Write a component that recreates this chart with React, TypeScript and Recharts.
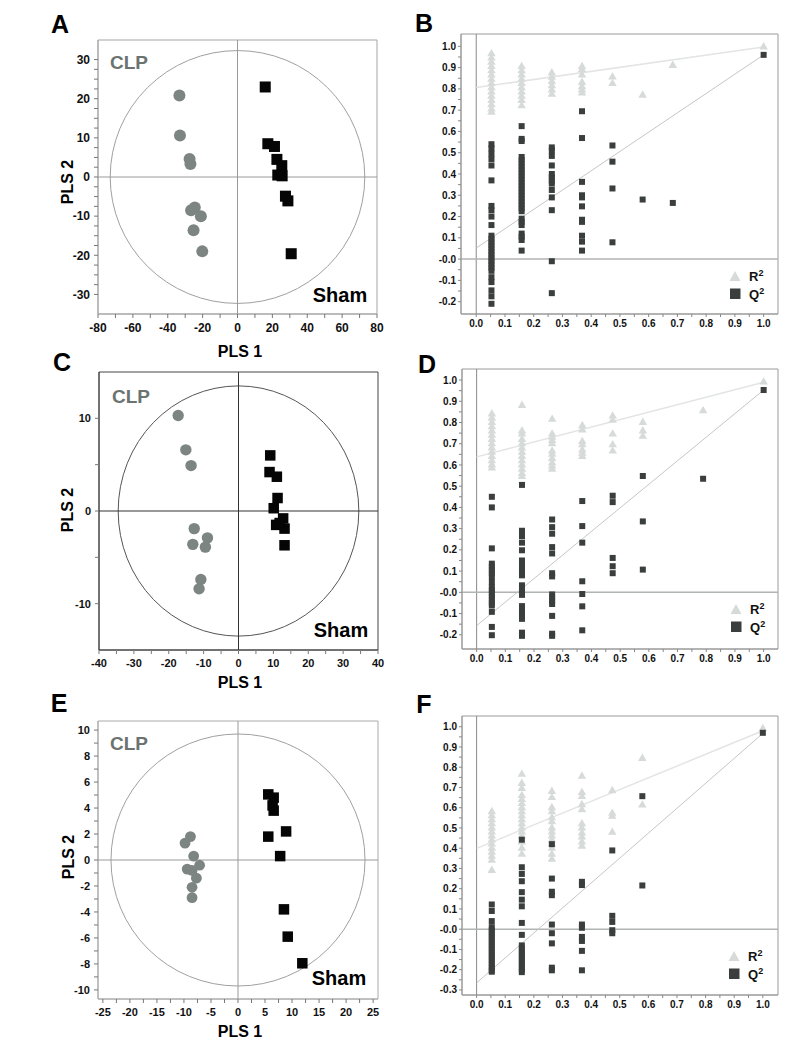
import React from 'react';
import { ScatterChart, Scatter, XAxis, YAxis, ReferenceLine, ReferenceArea, Legend } from 'recharts';

const FONT = '"Liberation Sans", Arial, Helvetica, sans-serif';

// ---------- PLS-DA score plots ----------
const A_CLP_X = [-33.3, -33, -27.5, -27, -24.5, -26.6, -21, -25.2, -20.2];
const A_CLP_Y = [20.8, 10.6, 4.6, 3.3, -7.8, -8.5, -10, -13.6, -19];
const A_SHAM_X = [15.9, 17.4, 21.2, 22.6, 25.4, 23.1, 25.6, 27.5, 28.9, 30.8];
const A_SHAM_Y = [23, 8.5, 7.8, 4.5, 2.9, 0.5, 0.3, -4.9, -6.1, -19.6];
const A_ELLIPSE = [73, 32.3];

const C_CLP_X = [-17.3, -15.1, -13.6, -12.7, -13.1, -8.9, -9.5, -10.8, -11.3];
const C_CLP_Y = [10.3, 6.6, 4.9, -1.9, -3.6, -2.9, -3.9, -7.4, -8.4];
const C_SHAM_X = [9.1, 8.9, 11.0, 11.2, 10.1, 12.8, 10.8, 13.2, 13.2, 11.8];
const C_SHAM_Y = [6.0, 4.2, 3.7, 1.4, 0.3, -0.8, -1.5, -1.9, -3.7, -1.3];
const C_ELLIPSE = [34.5, 13.5];

const E_CLP_X = [-8.8, -9.8, -8.2, -7.1, -9.4, -8.5, -7.7, -8.5, -8.5];
const E_CLP_Y = [1.8, 1.3, 0.3, -0.4, -0.7, -0.8, -1.4, -2.1, -2.9];
const E_SHAM_X = [5.6, 6.6, 6.4, 6.6, 5.6, 8.9, 7.8, 8.5, 9.2, 11.9];
const E_SHAM_Y = [5.05, 4.8, 4.2, 3.8, 1.8, 2.2, 0.3, -3.8, -5.9, -7.95];
const E_ELLIPSE = [23.5, 9.7];

const A_XTICKS = [-80, -60, -40, -20, 0, 20, 40, 60, 80];
const A_YTICKS = [-30, -20, -10, 0, 10, 20, 30];
const C_XTICKS = [-40, -30, -20, -10, 0, 10, 20, 30, 40];
const C_YTICKS = [-10, 0, 10];
const E_XTICKS = [-25, -20, -15, -10, -5, 0, 5, 10, 15, 20, 25];
const E_YTICKS = [-10, -8, -6, -4, -2, 0, 2, 4, 6, 8, 10];

// ---------- Permutation plots ----------
const PERM_X = [0.053, 0.158, 0.263, 0.368, 0.474, 0.579, 0.684, 0.789, 1.0];
const PERM_XTICKS = [0, 0.1, 0.2, 0.3, 0.4, 0.5, 0.6, 0.7, 0.8, 0.9, 1.0];
const B_YTICKS = [-0.2, -0.1, 0, 0.1, 0.2, 0.3, 0.4, 0.5, 0.6, 0.7, 0.8, 0.9, 1.0];
const F_YTICKS = [-0.3, -0.2, -0.1, 0, 0.1, 0.2, 0.3, 0.4, 0.5, 0.6, 0.7, 0.8, 0.9, 1.0];

const B_R2 = [
  [0.965, 0.945, 0.925, 0.905, 0.885, 0.865, 0.845, 0.825, 0.805, 0.785, 0.765, 0.745, 0.725, 0.705, 0.69],
  [0.905, 0.885, 0.865, 0.845, 0.825, 0.805, 0.785, 0.765, 0.745, 0.72],
  [0.875, 0.855, 0.835, 0.815, 0.795, 0.775],
  [0.905, 0.89, 0.865, 0.83, 0.81, 0.795, 0.78],
  [0.856, 0.825],
  [0.77],
  [0.91],
  [],
  [0.997],
];
const B_Q2 = [
  [0.54, 0.52, 0.495, 0.47, 0.44, 0.37, 0.25, 0.23, 0.2, 0.16, 0.11, 0.095, 0.08, 0.065, 0.05, 0.035, 0.02, 0.005, -0.01, -0.025, -0.04, -0.055, -0.085, -0.108, -0.147, -0.175, -0.21],
  [0.625, 0.565, 0.555, 0.48, 0.465, 0.45, 0.435, 0.42, 0.405, 0.39, 0.375, 0.36, 0.345, 0.33, 0.315, 0.3, 0.285, 0.27, 0.255, 0.24, 0.225, 0.19, 0.175, 0.16, 0.12, 0.105, 0.09, 0.04],
  [0.525, 0.51, 0.485, 0.44, 0.4, 0.385, 0.37, 0.355, 0.325, 0.29, 0.23, -0.01, -0.16],
  [0.695, 0.569, 0.363, 0.3, 0.29, 0.248, 0.185, 0.175, 0.11, 0.082, 0.04],
  [0.534, 0.458, 0.332, 0.079],
  [0.28],
  [0.264],
  [],
  [0.96],
];
const B_R2_LINE = [0.806, 0.997];
const B_Q2_LINE = [0.052, 0.96];

const D_R2 = [
  [0.84, 0.82, 0.8, 0.78, 0.76, 0.74, 0.72, 0.7, 0.68, 0.66, 0.64, 0.62, 0.6, 0.585],
  [0.88, 0.76, 0.745, 0.72, 0.7, 0.68, 0.66, 0.64, 0.62, 0.6, 0.58, 0.56, 0.545],
  [0.815, 0.745, 0.73, 0.715, 0.7, 0.665, 0.65, 0.63, 0.61, 0.595, 0.58],
  [0.785, 0.765, 0.71, 0.695, 0.67, 0.655, 0.64],
  [0.83, 0.81, 0.745, 0.695, 0.665],
  [0.8, 0.76, 0.735],
  [],
  [0.855],
  [0.99],
];
const D_Q2 = [
  [0.45, 0.4, 0.207, 0.135, 0.12, 0.105, 0.09, 0.075, 0.049, 0.025, 0.01, -0.005, -0.02, -0.035, -0.05, -0.062, -0.092, -0.163, -0.202],
  [0.506, 0.29, 0.265, 0.234, 0.198, 0.15, 0.127, 0.11, 0.095, 0.08, 0.033, 0.018, 0.003, -0.012, -0.065, -0.08, -0.095, -0.11, -0.125, -0.19, -0.205],
  [0.343, 0.307, 0.276, 0.213, 0.183, 0.09, 0.075, -0.01, -0.025, -0.04, -0.055, -0.111, -0.195, -0.205],
  [0.43, 0.312, 0.234, 0.052, -0.008, -0.066, -0.179],
  [0.455, 0.425, 0.162, 0.123, 0.09],
  [0.548, 0.334, 0.107],
  [],
  [0.535],
  [0.953],
];
const D_R2_LINE = [0.638, 0.99];
const D_Q2_LINE = [-0.157, 0.953];

const F_R2 = [
  [0.58, 0.56, 0.54, 0.52, 0.5, 0.48, 0.46, 0.44, 0.42, 0.4, 0.38, 0.36, 0.34, 0.29],
  [0.765, 0.72, 0.695, 0.66, 0.64, 0.62, 0.6, 0.58, 0.56, 0.54, 0.52, 0.5, 0.48, 0.46, 0.43, 0.4, 0.37],
  [0.68, 0.65, 0.6, 0.58, 0.55, 0.53, 0.5, 0.48, 0.46, 0.44, 0.42, 0.4, 0.37, 0.345],
  [0.755, 0.675, 0.655, 0.615, 0.59, 0.52, 0.5, 0.475, 0.455, 0.43, 0.41],
  [0.684, 0.572, 0.558, 0.478],
  [0.843, 0.613],
  [],
  [],
  [0.99],
];
const F_Q2 = [
  [0.122, 0.09, 0.04, 0.01, -0.005, -0.02, -0.035, -0.05, -0.065, -0.08, -0.095, -0.11, -0.125, -0.14, -0.155, -0.17, -0.185, -0.2, -0.21],
  [0.442, 0.306, 0.273, 0.237, 0.183, 0.146, 0.113, 0.031, -0.028, -0.08, -0.095, -0.11, -0.125, -0.14, -0.155, -0.17, -0.185, -0.2, -0.212],
  [0.42, 0.25, 0.185, 0.168, 0.023, -0.02, -0.07, -0.19, -0.203],
  [0.234, 0.218, 0.023, 0.007, -0.038, -0.058, -0.107, -0.203],
  [0.389, 0.066, 0.036, -0.005, -0.02],
  [0.657, 0.216],
  [],
  [],
  [0.97],
];
const F_R2_LINE = [0.399, 0.98];
const F_Q2_LINE = [-0.265, 0.967];

// ---------- helpers ----------
const zip = (xs: number[], ys: number[]) => xs.map((x, i) => ({ x, y: ys[i] }));
const toPoints = (xs: number[], cols: number[][]) =>
  cols.flatMap((c, i) => c.map((y) => ({ x: xs[i], y })));
const withMinor = (majors: number[], parts: number) => {
  const out: number[] = [];
  for (let i = 0; i < majors.length - 1; i++) {
    for (let k = 0; k < parts; k++) out.push(majors[i] + ((majors[i + 1] - majors[i]) * k) / parts);
  }
  out.push(majors[majors.length - 1]);
  return out;
};
const isMajor = (majors: number[], v: number) => majors.some((m) => Math.abs(m - v) < 1e-6);

type Box = { x: number; y: number; w: number; h: number };
type Plot = { l: number; t: number; w: number; h: number };
const margins = (box: Box, plot: Plot, yW: number, xH: number) => ({
  left: plot.l - box.x - yW,
  top: plot.t - box.y,
  right: box.x + box.w - plot.l - plot.w,
  bottom: box.y + box.h - plot.t - plot.h - xH,
});

const Txt = ({ x, y, size, color = '#000', rotate = false, children, family = FONT }: any) => (
  <div
    style={{
      position: 'absolute',
      left: x,
      top: y,
      transform: `translate(-50%, -50%)${rotate ? ' rotate(-90deg)' : ''}`,
      fontFamily: family,
      fontWeight: 700,
      fontSize: size,
      color,
      whiteSpace: 'nowrap',
      lineHeight: 1,
    }}
  >
    {children}
  </div>
);

// ---------- PLS panel ----------
function PLSPanel(p: any) {
  const { box, plot, xDomain, yDomain, xMajors, yMajors, xParts, yParts, clp, sham, ellipse, lineColor, frameColor, ellColor, fontSize, r, sq } = p;
  const yW = 45;
  const xH = 30;
  const tickStyle = { fontSize, fontWeight: 700, fill: '#111', fontFamily: FONT };
  return (
    <div style={{ position: 'absolute', left: box.x, top: box.y }}>
      <ScatterChart width={box.w} height={box.h} margin={margins(box, plot, yW, xH)}>
        <XAxis
          type="number"
          dataKey="x"
          domain={xDomain}
          allowDataOverflow
          ticks={withMinor(xMajors, xParts)}
          interval={0}
          tickFormatter={(v: number) => (isMajor(xMajors, v) ? String(Math.round(v)) : '')}
          tick={tickStyle}
          tickSize={4}
          tickMargin={5}
          height={xH}
          axisLine={{ stroke: frameColor }}
          tickLine={{ stroke: '#777' }}
        />
        <YAxis
          type="number"
          dataKey="y"
          domain={yDomain}
          allowDataOverflow
          ticks={withMinor(yMajors, yParts)}
          interval={0}
          tickFormatter={(v: number) => (isMajor(yMajors, v) ? String(Math.round(v)) : '')}
          tick={tickStyle}
          tickSize={4}
          tickMargin={4}
          width={yW}
          axisLine={{ stroke: frameColor }}
          tickLine={{ stroke: '#777' }}
        />
        <ReferenceArea
          x1={xDomain[0]}
          x2={xDomain[1]}
          y1={yDomain[0]}
          y2={yDomain[1]}
          fill="none"
          fillOpacity={0}
          stroke={frameColor}
          strokeWidth={1}
        />
        <ReferenceArea
          x1={-ellipse[0]}
          x2={ellipse[0]}
          y1={-ellipse[1]}
          y2={ellipse[1]}
          shape={(s: any) => (
            <ellipse
              cx={s.x + s.width / 2}
              cy={s.y + s.height / 2}
              rx={Math.abs(s.width) / 2}
              ry={Math.abs(s.height) / 2}
              fill="none"
              stroke={ellColor}
              strokeWidth={1}
            />
          )}
        />
        <ReferenceLine x={0} stroke={lineColor} strokeWidth={1} />
        <ReferenceLine y={0} stroke={lineColor} strokeWidth={1} />
        <Scatter
          name="CLP"
          data={clp}
          isAnimationActive={false}
          shape={(s: any) => <circle cx={s.cx} cy={s.cy} r={r} fill="#7d8582" />}
        />
        <Scatter
          name="Sham"
          data={sham}
          isAnimationActive={false}
          shape={(s: any) => <rect x={s.cx - sq / 2} y={s.cy - sq / 2} width={sq} height={sq} fill="#050505" />}
        />
      </ScatterChart>
    </div>
  );
}

// ---------- Permutation panel ----------
const TRI = 8.5;
const SQ = 6;
const triShape = (s: any) => {
  const h = TRI * 0.866;
  return (
    <polygon
      points={`${s.cx},${s.cy - (2 * h) / 3} ${s.cx - TRI / 2},${s.cy + h / 3} ${s.cx + TRI / 2},${s.cy + h / 3}`}
      fill="#d6dad9"
    />
  );
};
const sqShape = (s: any) => (
  <rect x={s.cx - SQ / 2} y={s.cy - SQ / 2} width={SQ} height={SQ} fill="#3a3e3d" />
);

const LegendBox = () => (
  <div style={{ fontFamily: FONT, fontWeight: 700, fontSize: 13, color: '#111' }}>
    <div style={{ display: 'flex', alignItems: 'center', height: 18 }}>
      <svg width={14} height={12} style={{ marginRight: 7 }}>
        <polygon points="7,1 1.5,11 12.5,11" fill="#d6dad9" />
      </svg>
      <span>R<sup style={{ fontSize: 9, verticalAlign: 'top', lineHeight: 1 }}>2</sup></span>
    </div>
    <div style={{ display: 'flex', alignItems: 'center', height: 18 }}>
      <svg width={14} height={12} style={{ marginRight: 7 }}>
        <rect x={2} y={0.5} width={10.5} height={10.5} fill="#3a3e3d" />
      </svg>
      <span>Q<sup style={{ fontSize: 9, verticalAlign: 'top', lineHeight: 1 }}>2</sup></span>
    </div>
  </div>
);

function PermPanel(p: any) {
  const { box, plot, xDomain, yDomain, yMajors, r2, q2, r2Line, q2Line, legendPos } = p;
  const yW = 32;
  const xH = 20;
  const tickStyle = { fontSize: 10, fontWeight: 700, fill: '#111', fontFamily: FONT };
  return (
    <div style={{ position: 'absolute', left: box.x, top: box.y }}>
      <ScatterChart width={box.w} height={box.h} margin={margins(box, plot, yW, xH)}>
        <XAxis
          type="number"
          dataKey="x"
          domain={xDomain}
          allowDataOverflow
          ticks={withMinor(PERM_XTICKS, 2)}
          interval={0}
          tickFormatter={(v: number) => (isMajor(PERM_XTICKS, v) ? v.toFixed(1) : '')}
          tick={tickStyle}
          tickSize={3}
          tickMargin={3}
          height={xH}
          axisLine={{ stroke: '#999' }}
          tickLine={{ stroke: '#888' }}
        />
        <YAxis
          type="number"
          dataKey="y"
          domain={yDomain}
          allowDataOverflow
          ticks={withMinor(yMajors, 2)}
          interval={0}
          tickFormatter={(v: number) =>
            isMajor(yMajors, v) ? (Math.abs(v) < 1e-6 ? '-0.0' : v.toFixed(1)) : ''
          }
          tick={tickStyle}
          tickSize={3}
          tickMargin={2}
          width={yW}
          axisLine={{ stroke: '#999' }}
          tickLine={{ stroke: '#888' }}
        />
        <ReferenceArea
          x1={xDomain[0]}
          x2={xDomain[1]}
          y1={yDomain[0]}
          y2={yDomain[1]}
          fill="none"
          fillOpacity={0}
          stroke="#9a9a9a"
          strokeWidth={1}
        />
        <ReferenceLine x={0} stroke="#8a8a8a" strokeWidth={1} />
        <ReferenceLine y={0} stroke="#b0b4b3" strokeWidth={1.5} />
        <ReferenceLine
          segment={[{ x: 0, y: r2Line[0] }, { x: 1, y: r2Line[1] }]}
          stroke="#e2e5e4"
          strokeWidth={1.5}
          ifOverflow="visible"
        />
        <ReferenceLine
          segment={[{ x: 0, y: q2Line[0] }, { x: 1, y: q2Line[1] }]}
          stroke="#c4c7c6"
          strokeWidth={1}
          ifOverflow="visible"
        />
        <Scatter name="R²" data={toPoints(PERM_X, r2)} isAnimationActive={false} shape={triShape} />
        <Scatter name="Q²" data={toPoints(PERM_X, q2)} isAnimationActive={false} shape={sqShape} />
        <Legend
          layout="horizontal"
          verticalAlign="middle"
          align="center"
          content={() => <LegendBox />}
          wrapperStyle={{ left: legendPos[0] - box.x, top: legendPos[1] - box.y, width: 50, height: 40 }}
        />
      </ScatterChart>
    </div>
  );
}

export default function App() {
  const boxA = { x: 0, y: 0, w: 395, h: 345 };
  const boxC = { x: 0, y: 345, w: 395, h: 345 };
  const boxE = { x: 0, y: 690, w: 395, h: 359 };
  const boxB = { x: 395, y: 0, w: 391, h: 345 };
  const boxD = { x: 395, y: 345, w: 391, h: 345 };
  const boxF = { x: 395, y: 690, w: 391, h: 359 };
  return (
    <div style={{ position: 'absolute', left: 0, top: 0, width: 786, height: 1049, background: '#fff', overflow: 'hidden' }}>
      <PLSPanel
        box={boxA}
        plot={{ l: 98, t: 40, w: 279, h: 274 }}
        xDomain={[-80, 80]}
        yDomain={[-35, 35]}
        xMajors={A_XTICKS}
        yMajors={A_YTICKS}
        xParts={2}
        yParts={4}
        clp={zip(A_CLP_X, A_CLP_Y)}
        sham={zip(A_SHAM_X, A_SHAM_Y)}
        ellipse={A_ELLIPSE}
        lineColor="#9a9a9a"
        frameColor="#a5a5a5"
        ellColor="#a0a0a0"
        fontSize={12}
        r={6}
        sq={11}
      />
      <PLSPanel
        box={boxC}
        plot={{ l: 99, t: 372, w: 279, h: 278 }}
        xDomain={[-40, 40]}
        yDomain={[-15, 15]}
        xMajors={C_XTICKS}
        yMajors={C_YTICKS}
        xParts={2}
        yParts={2}
        clp={zip(C_CLP_X, C_CLP_Y)}
        sham={zip(C_SHAM_X, C_SHAM_Y)}
        ellipse={C_ELLIPSE}
        lineColor="#333"
        frameColor="#444"
        ellColor="#555"
        fontSize={11}
        r={5.7}
        sq={10.5}
      />
      <PLSPanel
        box={boxE}
        plot={{ l: 98, t: 721, w: 280, h: 278 }}
        xDomain={[-25.9, 25.9]}
        yDomain={[-10.7, 10.7]}
        xMajors={E_XTICKS}
        yMajors={E_YTICKS}
        xParts={2}
        yParts={2}
        clp={zip(E_CLP_X, E_CLP_Y)}
        sham={zip(E_SHAM_X, E_SHAM_Y)}
        ellipse={E_ELLIPSE}
        lineColor="#9a9a9a"
        frameColor="#aaa"
        ellColor="#a0a0a0"
        fontSize={11}
        r={5.4}
        sq={10.5}
      />
      <PermPanel
        box={boxB}
        plot={{ l: 461, t: 34, w: 317, h: 280 }}
        xDomain={[-0.053, 1.05]}
        yDomain={[-0.258, 1.058]}
        yMajors={B_YTICKS}
        r2={B_R2}
        q2={B_Q2}
        r2Line={B_R2_LINE}
        q2Line={B_Q2_LINE}
        legendPos={[728, 267]}
      />
      <PermPanel
        box={boxD}
        plot={{ l: 462, t: 369, w: 316, h: 280 }}
        xDomain={[-0.051, 1.05]}
        yDomain={[-0.267, 1.052]}
        yMajors={B_YTICKS}
        r2={D_R2}
        q2={D_Q2}
        r2Line={D_R2_LINE}
        q2Line={D_Q2_LINE}
        legendPos={[729, 600]}
      />
      <PermPanel
        box={boxF}
        plot={{ l: 462, t: 716, w: 316, h: 279 }}
        xDomain={[-0.051, 1.053]}
        yDomain={[-0.325, 1.053]}
        yMajors={F_YTICKS}
        r2={F_R2}
        q2={F_Q2}
        r2Line={F_R2_LINE}
        q2Line={F_Q2_LINE}
        legendPos={[727, 947]}
      />

      {/* panel letters */}
      <Txt x={60} y={24} size={25}>A</Txt>
      <Txt x={424} y={23} size={25}>B</Txt>
      <Txt x={62} y={362} size={25}>C</Txt>
      <Txt x={427} y={364} size={25}>D</Txt>
      <Txt x={59} y={703} size={25}>E</Txt>
      <Txt x={424} y={704} size={25}>F</Txt>

      {/* axis titles */}
      <Txt x={68} y={182} size={16} rotate>PLS 2</Txt>
      <Txt x={240} y={352} size={16}>PLS 1</Txt>
      <Txt x={68} y={510} size={16} rotate>PLS 2</Txt>
      <Txt x={240} y={683} size={16}>PLS 1</Txt>
      <Txt x={69} y={857} size={16} rotate>PLS 2</Txt>
      <Txt x={240} y={1032} size={16}>PLS 1</Txt>

      {/* group labels */}
      <Txt x={129} y={62} size={19} color="#6b7371">CLP</Txt>
      <Txt x={340} y={295} size={20}>Sham</Txt>
      <Txt x={131} y={396} size={19} color="#6b7371">CLP</Txt>
      <Txt x={341} y={630} size={20}>Sham</Txt>
      <Txt x={129} y={743} size={19} color="#6b7371">CLP</Txt>
      <Txt x={339} y={978} size={20}>Sham</Txt>
    </div>
  );
}
